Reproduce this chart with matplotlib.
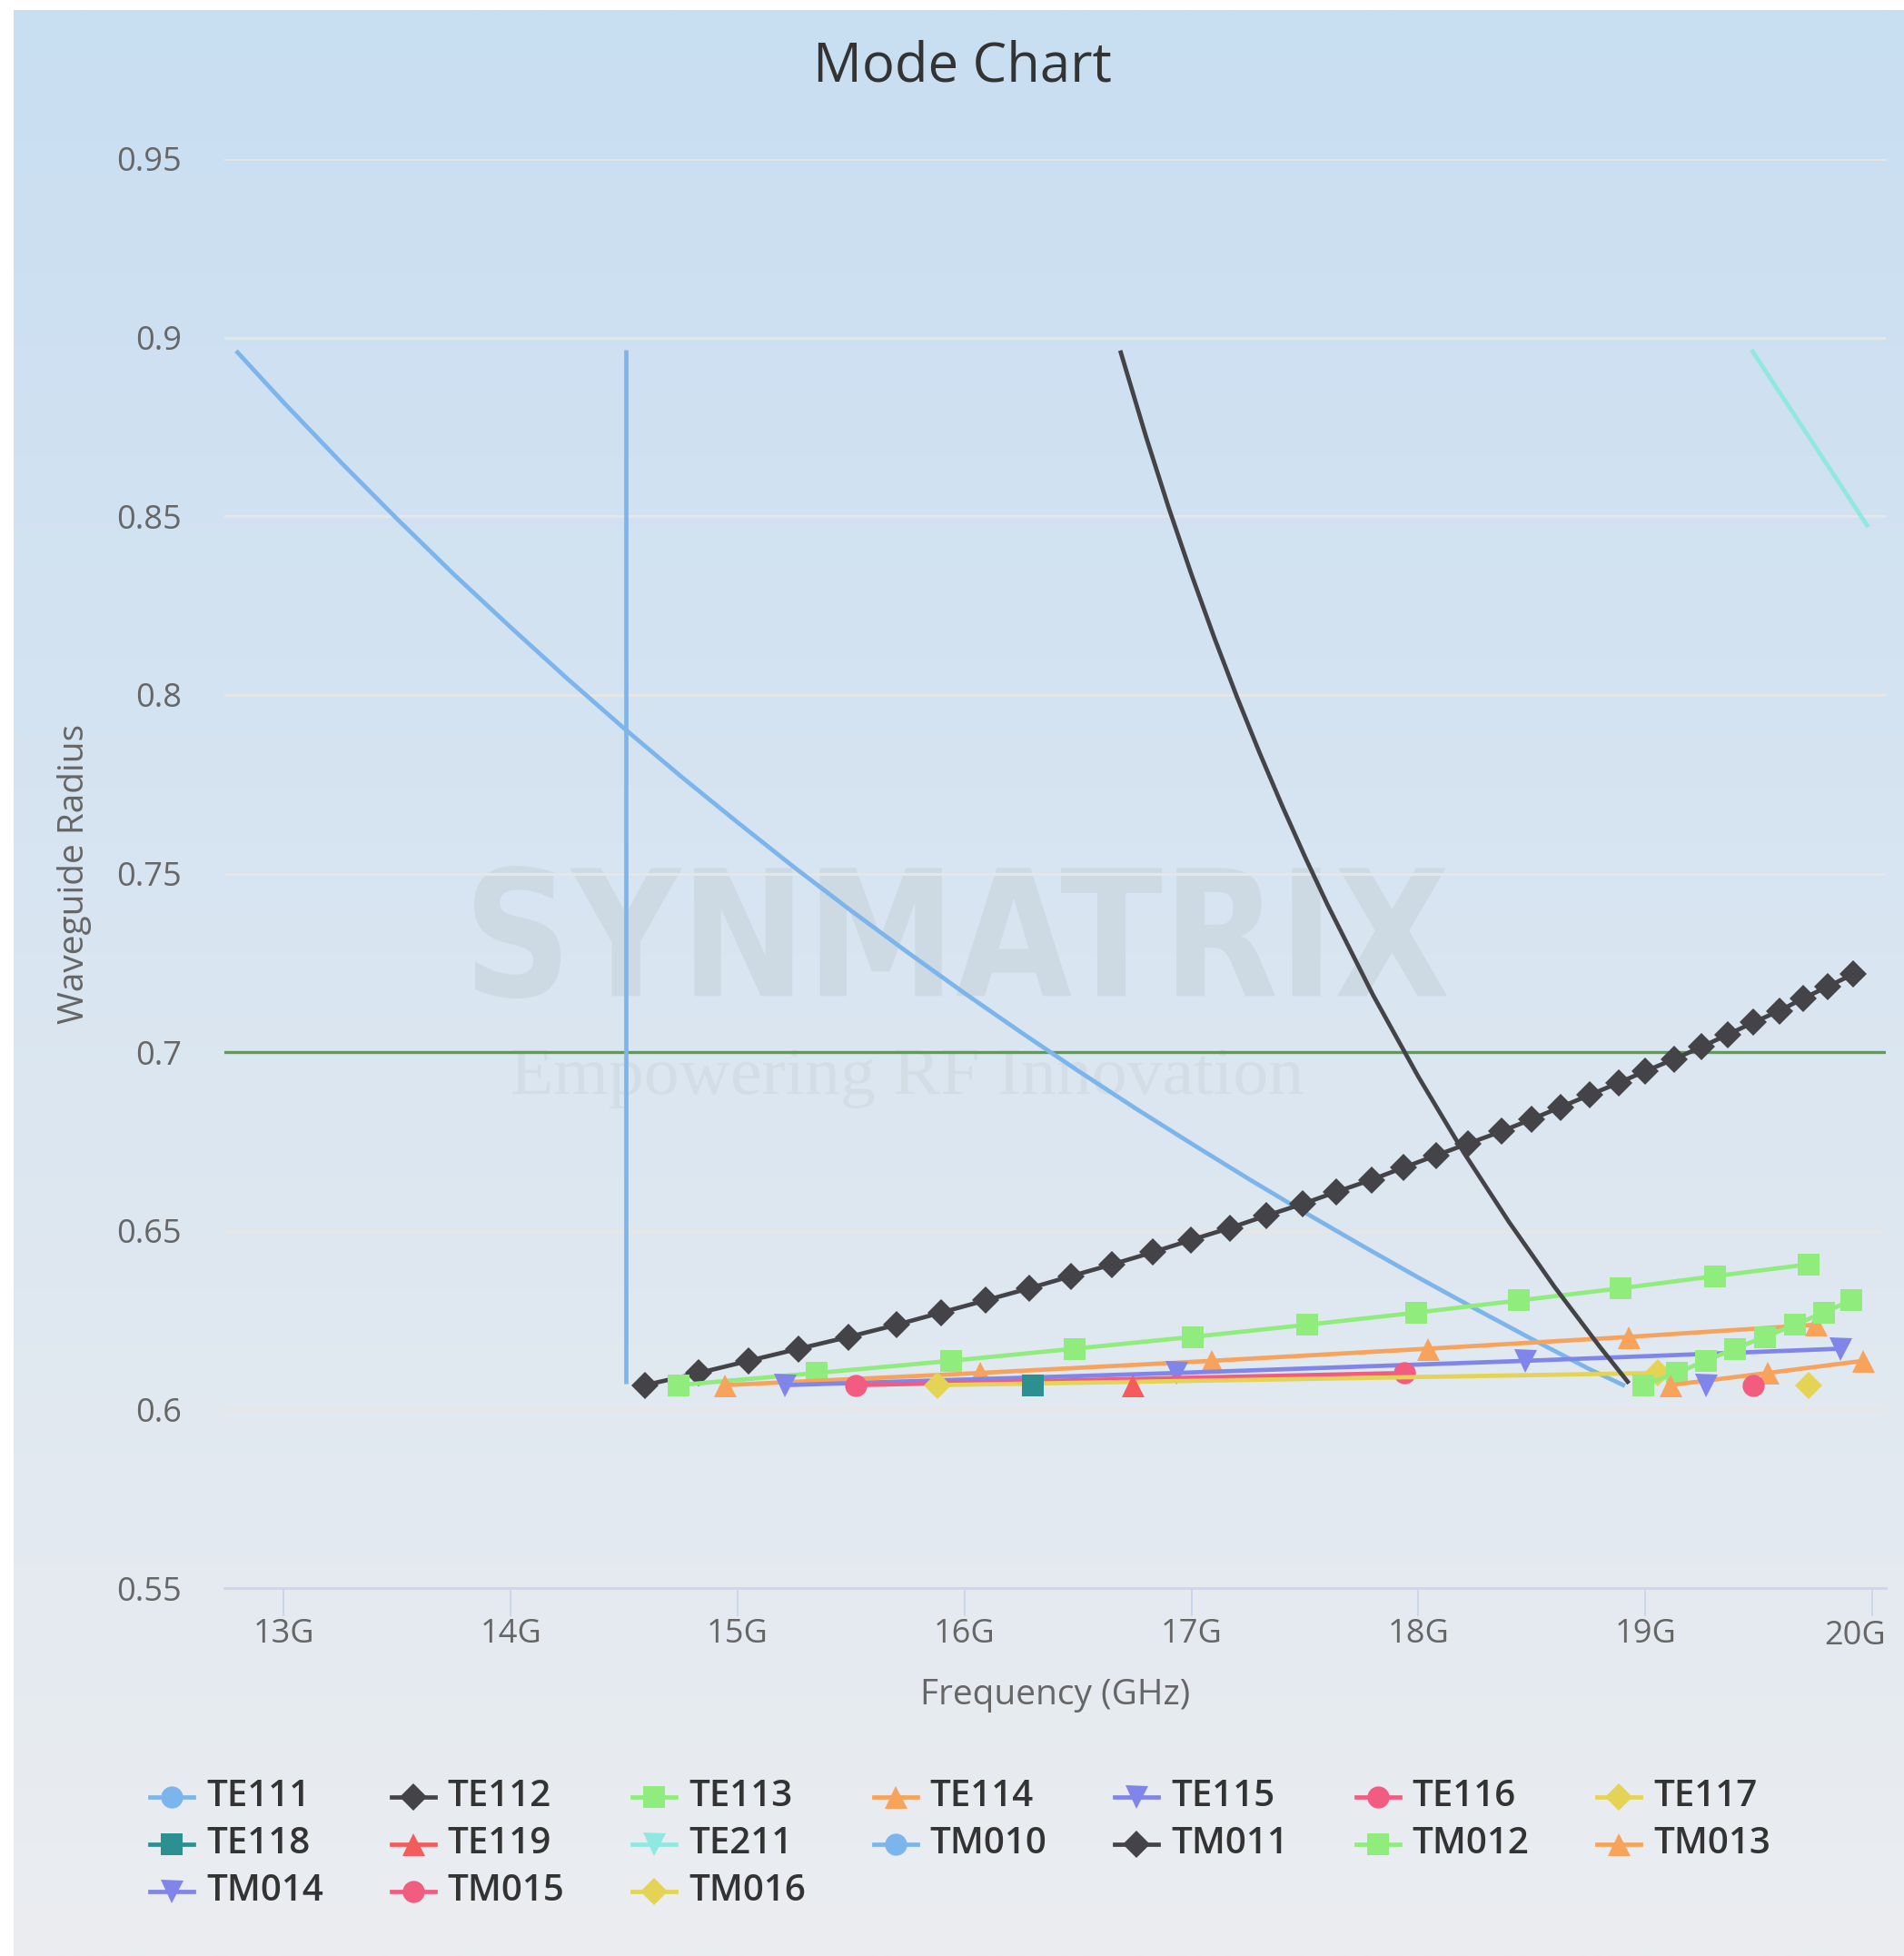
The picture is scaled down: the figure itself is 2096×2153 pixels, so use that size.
import numpy as np
import matplotlib
matplotlib.use("Agg")
import matplotlib.pyplot as plt
import matplotlib.colors as mcolors
from matplotlib.textpath import TextPath
from matplotlib.patches import PathPatch
from matplotlib.font_manager import FontProperties
from matplotlib.transforms import Affine2D

W, H, DPI = 2096, 2153, 100

# legend order / styling (Highcharts default palette and symbol cycle)
MODES = ["TE111", "TE112", "TE113", "TE114", "TE115", "TE116", "TE117",
         "TE118", "TE119", "TE211", "TM010", "TM011", "TM012", "TM013",
         "TM014", "TM015", "TM016"]
PALETTE = ["#7cb5ec", "#434348", "#90ed7d", "#f7a35c", "#8085e9",
           "#f15c80", "#e4d354", "#2b908f", "#f45b5b", "#91e8e1"]
SYMBOLS = ["o", "D", "s", "^", "v"]
# series drawn without point markers (dense curves)
NO_MARKERS = {"TE111", "TE211", "TM010", "TM011"}

# ---- data: frequency (GHz) vs waveguide radius ----
te111_f = [12.79, 13.00, 13.25, 13.50, 13.75, 14.00, 14.25, 14.50, 14.75, 15.00,
           15.25, 15.50, 15.75, 16.00, 16.25, 16.50, 16.75, 17.00, 17.25, 17.50,
           17.75, 18.00, 18.25, 18.50, 18.75, 18.91]
te111_r = [0.8963, 0.8818, 0.8652, 0.8492, 0.8337, 0.8189, 0.8045, 0.7906, 0.7772, 0.7643,
           0.7517, 0.7396, 0.7279, 0.7165, 0.7055, 0.6948, 0.6844, 0.6744, 0.6646, 0.6551,
           0.6459, 0.6369, 0.6282, 0.6197, 0.6114, 0.6066]

te112_f = [14.591, 14.829, 15.048, 15.270, 15.490, 15.701, 15.896, 16.091, 16.285,
           16.469, 16.651, 16.830, 16.997, 17.170, 17.328, 17.489, 17.639, 17.794,
           17.935, 18.078, 18.219, 18.365, 18.498, 18.626, 18.754, 18.882, 19.001,
           19.129, 19.248, 19.363, 19.476, 19.591, 19.695, 19.805, 19.915]
te112_r = [0.6068, 0.6102, 0.6136, 0.6170, 0.6203, 0.6237, 0.6271, 0.6305, 0.6339,
           0.6373, 0.6406, 0.6440, 0.6474, 0.6508, 0.6542, 0.6575, 0.6609, 0.6643,
           0.6677, 0.6711, 0.6744, 0.6778, 0.6812, 0.6846, 0.6880, 0.6914, 0.6947,
           0.6981, 0.7015, 0.7049, 0.7083, 0.7116, 0.7150, 0.7184, 0.7218]

te113_f = [14.739, 15.350, 15.940, 16.484, 17.005, 17.511, 17.992, 18.443, 18.891, 19.306, 19.719]
te113_r = [0.6068, 0.6102, 0.6136, 0.6170, 0.6203, 0.6237, 0.6271, 0.6305, 0.6339, 0.6373, 0.6406]

te114_f = [14.945, 16.067, 17.089, 18.042, 18.928, 19.750]
te114_r = [0.6068, 0.6102, 0.6136, 0.6170, 0.6203, 0.6237]

te115_f = [15.207, 16.934, 18.471, 19.860]
te115_r = [0.6068, 0.6102, 0.6136, 0.6170]

te116_f = [15.520, 17.937]
te116_r = [0.6068, 0.6102]

te117_f = [15.880, 19.055]
te117_r = [0.6068, 0.6102]

te118_f = [16.300]
te118_r = [0.6068]

te119_f = [16.740]
te119_r = [0.6068]

te211_f = [19.468, 19.722, 19.982]
te211_r = [0.8966, 0.8721, 0.8470]

tm010_f = [14.508, 14.508]
tm010_r = [0.8967, 0.6073]

tm011_f = [16.686, 16.80, 16.90, 17.00, 17.10, 17.20, 17.30, 17.40, 17.50, 17.60,
           17.80, 18.00, 18.20, 18.40, 18.60, 18.80, 18.928]
tm011_r = [0.8964, 0.8722, 0.8523, 0.8337, 0.8161, 0.7995, 0.7838, 0.7689, 0.7547, 0.7412,
           0.7160, 0.6931, 0.6719, 0.6524, 0.6343, 0.6175, 0.6073]

tm012_f = [18.990, 19.138, 19.266, 19.394, 19.527, 19.659, 19.787, 19.906]
tm012_r = [0.6068, 0.6102, 0.6136, 0.6170, 0.6203, 0.6237, 0.6271, 0.6305]

tm013_f = [19.110, 19.540, 19.960]
tm013_r = [0.6068, 0.6102, 0.6136]

tm014_f = [19.266]
tm014_r = [0.6068]

tm015_f = [19.476]
tm015_r = [0.6068]

tm016_f = [19.720]
tm016_r = [0.6068]

SERIES = {
    "TE111": (te111_f, te111_r), "TE112": (te112_f, te112_r),
    "TE113": (te113_f, te113_r), "TE114": (te114_f, te114_r),
    "TE115": (te115_f, te115_r), "TE116": (te116_f, te116_r),
    "TE117": (te117_f, te117_r), "TE118": (te118_f, te118_r),
    "TE119": (te119_f, te119_r), "TE211": (te211_f, te211_r),
    "TM010": (tm010_f, tm010_r), "TM011": (tm011_f, tm011_r),
    "TM012": (tm012_f, tm012_r), "TM013": (tm013_f, tm013_r),
    "TM014": (tm014_f, tm014_r), "TM015": (tm015_f, tm015_r),
    "TM016": (tm016_f, tm016_r),
}

X_TICKS = [13, 14, 15, 16, 17, 18, 19, 20]
X_LABELS = ["13G", "14G", "15G", "16G", "17G", "18G", "19G", "20G"]
Y_TICKS = [0.55, 0.6, 0.65, 0.7, 0.75, 0.8, 0.85, 0.9, 0.95]
Y_LABELS = ["0.55", "0.6", "0.65", "0.7", "0.75", "0.8", "0.85", "0.9", "0.95"]
TARGET_RADIUS = 0.7

BG_TOP, BG_BOTTOM = "#c8def2", "#ebedf0"
LINE_W = 3.4
MARKER_SIZE = {"o": 17.5, "D": 15.0, "s": 17.5, "^": 18.0, "v": 18.0}

plt.rcParams["font.family"] = ["Open Sans", "DejaVu Sans"]

fig = plt.figure(figsize=(W / DPI, H / DPI), dpi=DPI, facecolor="white")

# background layer in pixel coordinates
bg = fig.add_axes([0, 0, 1, 1], zorder=0)
top = np.array(mcolors.to_rgb(BG_TOP))
bot = np.array(mcolors.to_rgb(BG_BOTTOM))
t = np.linspace(0, 1, 512)[:, None]
grad = (top + (bot - top) * t)[:, None, :]
bg.imshow(grad, extent=(15, W, H, 11), aspect="auto", interpolation="bilinear")
bg.set_xlim(0, W)
bg.set_ylim(H, 0)
bg.axis("off")


def fit_text(axis, s, box, prop, color):
    """Stretch a text path into a pixel box (x0, y0, x1, y1), y downwards."""
    tp = TextPath((0, 0), s, size=100, prop=prop)
    ext = tp.get_extents()
    x0, y0, x1, y1 = box
    tr = (Affine2D().translate(-ext.x0, -ext.y1)
          .scale((x1 - x0) / ext.width, -(y1 - y0) / ext.height)
          .translate(x0, y0))
    axis.add_patch(PathPatch(tr.transform_path(tp), fc=color, ec="none", zorder=2))


# watermark
fit_text(bg, "SYNMATRIX", (522, 953, 1593, 1099),
         FontProperties(family="DejaVu Sans", weight="bold"), "#cdd9e3")
fit_text(bg, "Empowering RF Innovation", (564, 1155, 1434, 1220),
         FontProperties(family="Liberation Serif"), "#d3dde6")

# main plot
ax = fig.add_axes([247 / W, 1 - 1748 / H, (2076 - 247) / W, (1748 - 175) / H], zorder=2)
ax.patch.set_alpha(0)
ax.set_xlim(12.738, 20.06)
ax.set_ylim(0.55, 0.95)

for s in ["top", "right", "left"]:
    ax.spines[s].set_visible(False)
ax.spines["bottom"].set_color("#ccd6eb")
ax.spines["bottom"].set_linewidth(2.0)
ax.spines["bottom"].set_zorder(1)

ax.set_yticks(Y_TICKS)
ax.set_yticklabels(Y_LABELS)
ax.set_xticks(X_TICKS)
ax.set_xticklabels(X_LABELS[:-1] + [""])
ax.annotate(X_LABELS[-1], xy=(1.0, 0.0), xycoords="axes fraction",
            xytext=(0, -25), textcoords="offset points",
            ha="right", va="top", fontsize=26, color="#666666")
ax.tick_params(axis="y", length=0, pad=34, labelsize=26, labelcolor="#666666")
ax.tick_params(axis="x", length=22, width=1.4, color="#ccd6eb", pad=2,
               labelsize=26, labelcolor="#666666")
ax.grid(axis="y", color="#e6e6e6", linewidth=2.2, zorder=0)
ax.set_axisbelow(True)

ax.axhline(TARGET_RADIUS, color="#5a9f4c", linewidth=2.4, zorder=1.5)

for i, name in enumerate(MODES):
    f, r = SERIES[name]
    color = PALETTE[i % len(PALETTE)]
    sym = SYMBOLS[i % len(SYMBOLS)]
    ax.plot(f, r, color=color, linewidth=LINE_W,
            marker=None if name in NO_MARKERS else sym,
            markersize=MARKER_SIZE[sym], markeredgewidth=0,
            solid_capstyle="butt", solid_joinstyle="round", zorder=3 + i * 0.01)

ax.set_xlabel("Frequency (GHz)", fontsize=28, color="#666666")
ax.xaxis.set_label_coords(0.5, -0.0749)
ax.xaxis.label.set_va("center")
ax.set_ylabel("Waveguide Radius", fontsize=28, color="#666666")
ax.yaxis.set_label_coords(-0.0902, 0.5)
ax.yaxis.label.set_va("center")

fig.text(1059 / W, 1 - 74 / H, "Mode Chart", ha="center", va="center",
         fontsize=43, fontweight=500, color="#333333")

# legend grid (row-major, 7 per row), drawn in pixel coordinates
col_x = 189
col_step = 265.5
row_y = [1978, 2030, 2082]
for i, name in enumerate(MODES):
    xc = col_x + (i % 7) * col_step
    yc = row_y[i // 7]
    color = PALETTE[i % len(PALETTE)]
    sym = SYMBOLS[i % len(SYMBOLS)]
    bg.plot([xc - 24, xc + 24], [yc, yc], color=color, linewidth=LINE_W, zorder=3)
    bg.plot([xc], [yc], linestyle="none", marker=sym, color=color,
            markersize=MARKER_SIZE[sym], markeredgewidth=0, zorder=4)
    bg.text(xc + 38, yc, name, ha="left", va="center", fontsize=29,
            fontweight=600, color="#333333", zorder=4)

fig.savefig("out.png", dpi=DPI, facecolor="white")
